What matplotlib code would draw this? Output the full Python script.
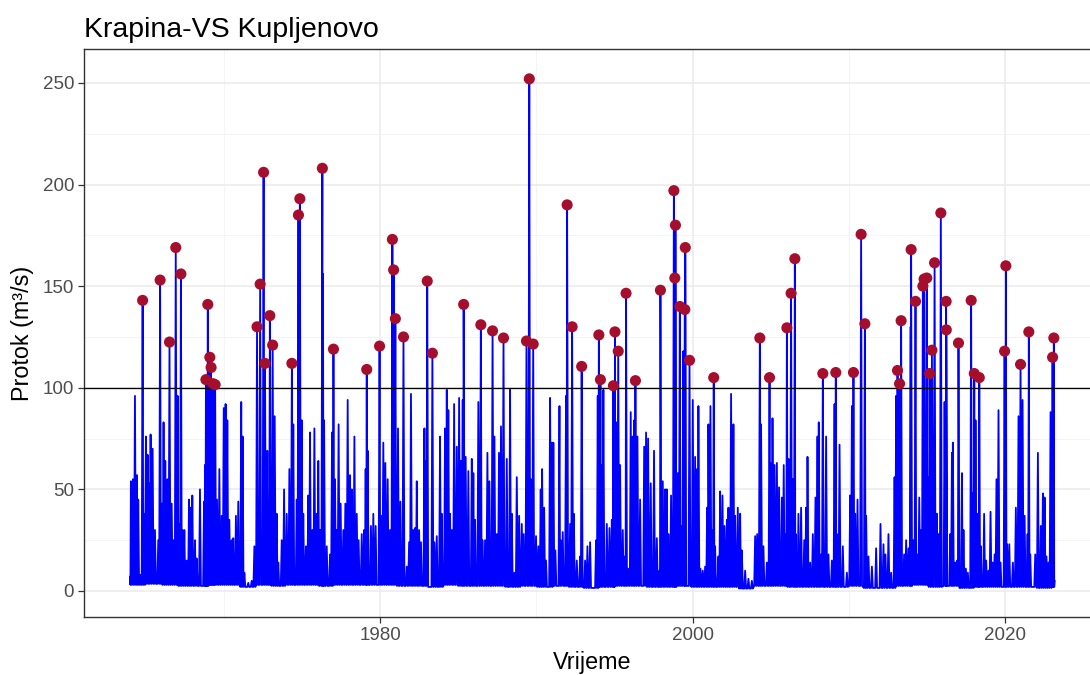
import numpy as np
import matplotlib
matplotlib.use("Agg")
import matplotlib.pyplot as plt
from matplotlib.ticker import MultipleLocator, FixedLocator

plt.rcParams['font.family'] = ['Liberation Sans', 'DejaVu Sans']

title = "Krapina-VS Kupljenovo"
xlabel = "Vrijeme"
ylabel = "Protok (m³/s)"
threshold = 100

# Peaks over threshold (red points): decimal year, discharge m3/s
peak_t = [1964.81, 1965.93, 1966.53, 1966.93, 1967.26, 1968.86, 1968.98, 1969.11, 1969.19, 1969.32,
          1969.45, 1972.13, 1972.33, 1972.55, 1972.64, 1972.95, 1973.13, 1974.36, 1974.78, 1974.87,
          1976.31, 1977.02, 1979.15, 1979.97, 1980.79, 1980.87, 1980.98, 1981.50, 1983.02, 1983.35,
          1985.35, 1986.45, 1987.20, 1987.90, 1989.37, 1989.55, 1989.80, 1991.97, 1992.29, 1992.90,
          1994.00, 1994.10, 1994.93, 1995.03, 1995.24, 1995.74, 1996.34, 1997.94, 1998.80, 1998.86,
          1998.90, 1999.18, 1999.50, 1999.53, 1999.80, 2001.35, 2004.30, 2004.92, 2006.03, 2006.30,
          2006.54, 2008.33, 2009.16, 2010.29, 2010.78, 2011.02, 2013.11, 2013.24, 2013.34, 2013.98,
          2014.26, 2014.73, 2014.81, 2014.98, 2015.16, 2015.31, 2015.48, 2015.88, 2016.22, 2016.23,
          2017.01, 2017.82, 2018.02, 2018.34, 2019.96, 2020.04, 2020.98, 2021.51, 2023.03, 2023.11]
peak_q = [143, 153, 122.5, 169, 156, 104, 141, 115, 110, 102,
          101.5, 130, 151, 206, 112, 135.5, 121, 112, 185, 193,
          208, 119, 109, 120.5, 173, 158, 134, 125, 152.5, 117,
          141, 131, 128, 124.5, 123, 252, 121.5, 190, 130, 110.5,
          126, 104, 101, 127.5, 118, 146.5, 103.5, 148, 197, 154,
          180, 140, 138.5, 169, 113.5, 105, 124.5, 105, 129.5, 146.5,
          163.5, 107, 107.5, 107.5, 175.5, 131.5, 108.5, 102, 133, 168,
          142.5, 150, 153.5, 154, 107, 118.5, 161.5, 186, 142.5, 128.5,
          122, 143, 107, 105, 118, 160, 111.5, 127.5, 115, 124.5]

# Other flood events below / near threshold (blue spikes)
spike_t = [1964.00, 1964.06, 1964.19, 1964.32, 1964.45, 1964.53, 1964.64, 1964.90, 1965.02, 1965.13,
           1965.22, 1965.32, 1965.45, 1965.60, 1965.81, 1966.03, 1966.15, 1966.26, 1966.39, 1966.67,
           1966.79, 1967.05, 1967.16, 1967.37, 1967.48, 1967.63, 1967.78, 1967.88, 1967.99, 1968.16,
           1968.27, 1968.48, 1968.74, 1968.80, 1968.92, 1969.05, 1969.25, 1969.40, 1969.57, 1969.72,
           1969.87, 1970.00, 1970.12, 1970.23, 1970.36, 1970.51, 1970.61, 1970.78, 1970.93, 1971.12,
           1971.21, 1971.32, 1971.57, 1971.79, 1971.96, 1972.79, 1972.87, 1973.26, 1973.39, 1973.49,
           1973.71, 1973.86, 1974.03, 1974.20, 1974.45, 1974.67, 1974.99, 1975.09, 1975.26, 1975.41,
           1975.52, 1975.67, 1975.80, 1975.95, 1976.05, 1976.18, 1976.35, 1976.42, 1976.59, 1976.80,
           1976.93, 1977.12, 1977.23, 1977.35, 1977.48, 1977.65, 1977.78, 1977.93, 1978.08, 1978.19,
           1978.36, 1978.51, 1978.63, 1978.83, 1978.98, 1979.08, 1979.21, 1979.42, 1979.57, 1979.72,
           1980.06, 1980.21, 1980.34, 1980.49, 1980.64, 1981.15, 1981.30, 1981.71, 1981.86, 1981.98,
           1982.13, 1982.24, 1982.35, 1982.50, 1982.62, 1982.84, 1982.92, 1983.48, 1983.63, 1983.84,
           1983.95, 1984.16, 1984.27, 1984.37, 1984.48, 1984.59, 1984.74, 1984.91, 1985.06, 1985.18,
           1985.29, 1985.48, 1985.65, 1985.87, 1985.97, 1986.08, 1986.29, 1986.55, 1986.72, 1986.87,
           1987.00, 1987.32, 1987.47, 1987.61, 1987.74, 1988.11, 1988.32, 1988.43, 1988.60, 1988.75,
           1988.90, 1989.07, 1989.19, 1989.65, 1989.98, 1990.13, 1990.28, 1990.37, 1990.50, 1990.62,
           1990.88, 1990.99, 1991.09, 1991.22, 1991.48, 1991.56, 1991.69, 1991.90, 1992.16, 1992.40,
           1992.59, 1992.80, 1993.12, 1993.27, 1993.44, 1993.82, 1993.93, 1994.19, 1994.29, 1994.51,
           1994.68, 1994.83, 1994.98, 1995.10, 1995.36, 1995.53, 1995.68, 1995.87, 1996.04, 1996.17,
           1996.25, 1996.47, 1996.64, 1996.90, 1997.02, 1997.15, 1997.32, 1997.53, 1997.71, 1997.88,
           1998.09, 1998.24, 1998.35, 1998.45, 1998.62, 1999.05, 1999.26, 1999.40, 2000.01, 2000.16,
           2000.29, 2000.37, 2000.50, 2000.65, 2000.80, 2000.93, 2001.01, 2001.14, 2001.27, 2001.44,
           2001.65, 2001.76, 2001.91, 2002.04, 2002.19, 2002.29, 2002.46, 2002.61, 2002.72, 2002.89,
           2003.04, 2003.15, 2003.36, 2003.57, 2003.79, 2004.00, 2004.13, 2004.38, 2004.53, 2004.75,
           2005.02, 2005.11, 2005.24, 2005.39, 2005.53, 2005.71, 2005.83, 2005.96, 2006.13, 2006.41,
           2006.60, 2006.77, 2006.94, 2007.14, 2007.26, 2007.35, 2007.52, 2007.69, 2007.86, 2007.99,
           2008.07, 2008.22, 2008.54, 2008.69, 2008.91, 2009.08, 2009.23, 2009.40, 2009.61, 2009.87,
           2010.08, 2010.19, 2010.40, 2010.55, 2011.10, 2011.25, 2011.47, 2011.74, 2012.02, 2012.21,
           2012.34, 2012.53, 2012.70, 2012.92, 2013.02, 2013.53, 2013.66, 2013.81, 2013.95, 2014.13,
           2014.35, 2014.50, 2014.62, 2015.05, 2015.63, 2015.73, 2016.12, 2016.48, 2016.59, 2016.65,
           2016.80, 2016.93, 2017.23, 2017.33, 2017.48, 2017.61, 2017.91, 2018.10, 2018.21, 2018.29,
           2018.44, 2018.65, 2018.78, 2018.93, 2019.06, 2019.19, 2019.32, 2019.44, 2019.57, 2019.70,
           2020.12, 2020.26, 2020.49, 2020.68, 2020.85, 2021.11, 2021.24, 2021.43, 2021.60, 2021.92,
           2022.09, 2022.28, 2022.41, 2022.52, 2022.64, 2022.77, 2022.90, 2023.16]
spike_q = [7, 54, 55, 96, 57, 45, 8, 38, 76, 67,
           53, 77, 70, 30, 25, 43, 83, 64, 55, 43,
           25, 96, 33, 30, 30, 15, 45, 41, 47, 25,
           16, 50, 44, 62, 55, 60, 58, 66, 45, 60,
           37, 90, 92, 84, 35, 25, 26, 37, 44, 93,
           76, 9, 4, 5, 22, 69, 38, 86, 38, 14,
           25, 50, 38, 60, 82, 45, 84, 38, 22, 47,
           78, 30, 80, 38, 64, 30, 156, 84, 22, 18,
           78, 55, 30, 82, 43, 30, 43, 94, 57, 50,
           76, 38, 25, 28, 30, 60, 69, 32, 38, 32,
           37, 73, 63, 55, 30, 80, 44, 12, 24, 97,
           30, 31, 54, 30, 24, 80, 64, 24, 27, 76,
           38, 80, 99, 89, 38, 30, 92, 71, 95, 64,
           94, 66, 59, 65, 58, 35, 93, 25, 25, 68,
           54, 76, 28, 68, 81, 65, 99, 38, 9, 56,
           37, 33, 28, 55, 27, 22, 50, 60, 41, 15,
           95, 73, 73, 20, 91, 25, 29, 96, 33, 38,
           15, 17, 15, 22, 24, 25, 96, 62, 99, 33,
           31, 35, 35, 83, 62, 30, 17, 11, 88, 76,
           84, 76, 45, 71, 78, 75, 53, 69, 26, 10,
           54, 50, 50, 28, 47, 58, 32, 118, 94, 66,
           60, 91, 11, 10, 12, 41, 82, 91, 30, 22,
           17, 49, 47, 32, 35, 41, 97, 82, 37, 41,
           38, 20, 10, 6, 5, 27, 28, 82, 22, 14,
           63, 85, 62, 63, 51, 46, 62, 28, 65, 55,
           28, 38, 41, 25, 41, 66, 14, 28, 46, 76,
           83, 18, 76, 18, 15, 92, 28, 72, 22, 9,
           47, 91, 38, 45, 37, 17, 12, 21, 33, 23,
           18, 28, 9, 56, 96, 18, 25, 21, 130, 25,
           18, 46, 30, 56, 38, 28, 93, 28, 68, 73,
           14, 15, 58, 30, 11, 9, 48, 84, 38, 37,
           22, 38, 15, 10, 39, 14, 18, 55, 89, 14,
           23, 23, 14, 41, 86, 94, 37, 28, 18, 18,
           68, 32, 48, 46, 17, 14, 88, 5]

# Low (base) flow per year, 1964-2023
base_year = list(range(1964, 2024))
base_q = [3, 3.5, 3, 2.5, 2.5, 3, 3, 2, 3, 2.5,
          3, 3, 2.5, 3, 3, 3, 3, 2.5, 2.5, 2,
          3, 2.5, 2.5, 2.5, 2, 2.5, 2, 2.5, 2, 1.5,
          2, 2.5, 2.5, 2, 2, 2.5, 2, 2, 2, 1.2,
          2.5, 2.5, 2, 2, 2, 2, 2.5, 1.5, 1.5, 2.5,
          3, 2, 2.5, 1.5, 2, 2, 2, 2, 1.5, 2]

# ---- assemble hydrograph: events joined by recessions to base flow ----
ev_t = np.array(peak_t + spike_t)
ev_q = np.array(peak_q + spike_q, dtype=float)
order = np.argsort(ev_t, kind="stable")
ev_t, ev_q = ev_t[order], ev_q[order]
base_lookup = dict(zip(base_year, base_q))

line_t, line_q = [], []
for i in range(len(ev_t)):
    line_t.append(ev_t[i]); line_q.append(ev_q[i])
    if i < len(ev_t) - 1:
        gap = ev_t[i + 1] - ev_t[i]
        d = min(0.06, gap / 2.0)
        line_t.append(ev_t[i] + d); line_q.append(base_lookup[int(ev_t[i])])
        if gap / 2.0 > 0.06:
            line_t.append(ev_t[i + 1] - d); line_q.append(base_lookup[int(ev_t[i + 1])])

# ---- figure ----
W, H = 1090, 675
fig = plt.figure(figsize=(W / 100, H / 100), dpi=100)
fig.patch.set_facecolor("white")
ax = fig.add_axes([84 / W, 58 / H, 1015 / W, 568 / H])
ax.set_facecolor("white")

ax.plot(line_t, line_q, color="#0000FF", lw=1.3, zorder=2)
ax.axhline(threshold, color="black", lw=0.95, zorder=3)
ax.scatter(peak_t, peak_q, s=64, color="#A50F2D", edgecolors="none", zorder=4)

ax.set_xlim(1961.06, 2026.0)
ax.set_ylim(-12.8, 266.7)
ax.xaxis.set_major_locator(FixedLocator([1980, 2000, 2020]))
ax.xaxis.set_minor_locator(FixedLocator([1970, 1990, 2010]))
ax.yaxis.set_major_locator(MultipleLocator(50))
ax.yaxis.set_minor_locator(FixedLocator([25, 75, 125, 175, 225]))

ax.grid(which="major", color="#EBEBEB", lw=1.1, zorder=0)
ax.grid(which="minor", color="#F2F2F2", lw=0.6, zorder=0)
ax.set_axisbelow(True)

for s in ["left", "bottom", "top"]:
    ax.spines[s].set_color("#333333")
    ax.spines[s].set_linewidth(1.0)
ax.spines["right"].set_visible(False)

ax.tick_params(which="major", length=4.2, width=0.9, color="#333333",
               labelcolor="#4D4D4D", labelsize=13.5, pad=3)
ax.tick_params(which="minor", length=0)

fig.text(84 / W, 1 - 37 / H, title, fontsize=20.5, color="black", ha="left", va="baseline")
fig.text(592 / W, 1 - 662 / H, xlabel, fontsize=16.8, color="black", ha="center", va="center")
fig.text(22 / W, 1 - 333 / H, ylabel, fontsize=16.8, color="black", ha="center", va="center",
         rotation=90)

fig.savefig("out.png", dpi=100, facecolor="white")
